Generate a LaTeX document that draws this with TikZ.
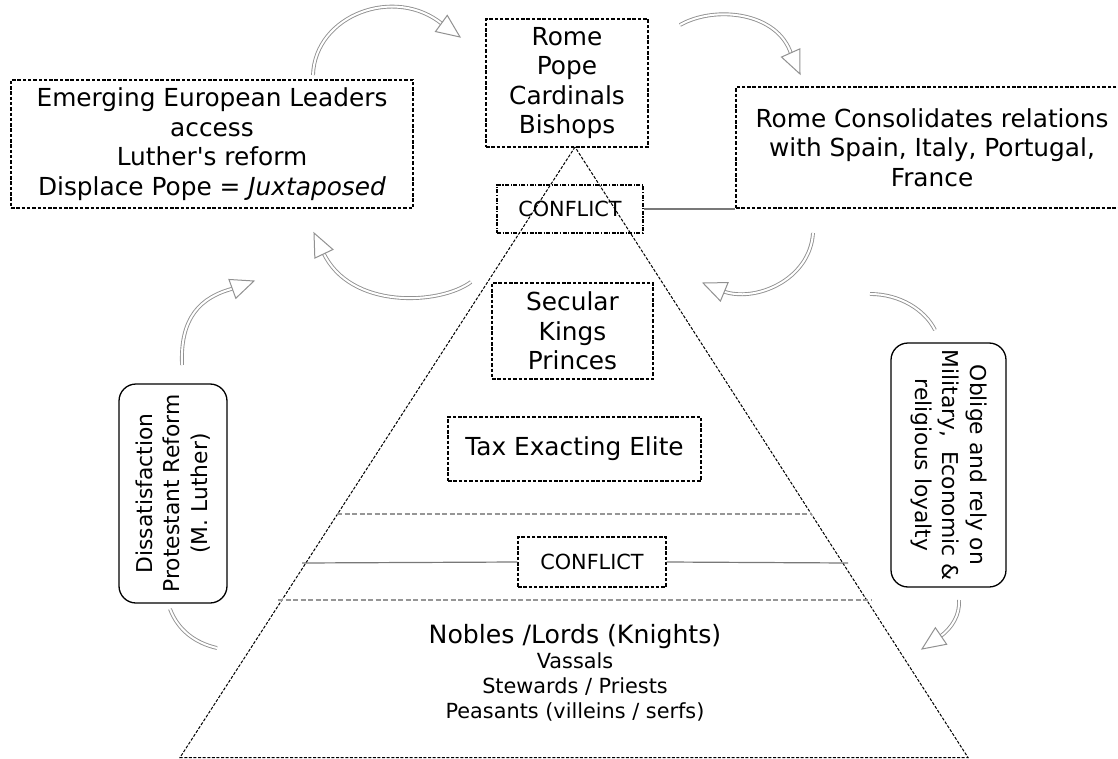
\documentclass[tikz,border=0pt]{standalone}
\usepackage{fontspec}
\setmainfont{DejaVu Sans}[ItalicFont={DejaVu Sans Oblique}]
\usetikzlibrary{calc}
\definecolor{agray}{RGB}{145,145,145}
\definecolor{lgray}{RGB}{120,120,120}
\definecolor{dgray}{RGB}{150,150,150}
\tikzset{
  dbox/.style={draw=black, line width=1.1pt, dash pattern=on 3.5pt off 1.8pt, inner sep=0pt, align=center, font=\fontsize{24.8}{29.5}\selectfont},
  ddbox/.style={draw=black, line width=1.1pt, dash pattern=on 4pt off 1.5pt on 1.2pt off 1.5pt, inner sep=0pt, align=center, font=\fontsize{20.8}{25}\selectfont},
  cbox/.style={dbox, font=\fontsize{20.8}{25}\selectfont},
  rbox/.style={draw=black, line width=1.3pt, rounded corners=17pt, inner sep=0pt, align=center, font=\fontsize{21.8}{27.5}\selectfont},
  tri/.style={draw=black, line width=1pt, dash pattern=on 3pt off 1.6pt},
  cline/.style={draw=lgray, line width=1.2pt},
  gdash/.style={draw=dgray, line width=1.1pt, dash pattern=on 5pt off 2.5pt},
  dbl/.style={draw=agray, line width=0.9pt, double=white, double distance=2pt},
  headst/.style={draw=agray, line width=1pt, fill=white, line join=miter},
  small/.style={inner sep=0pt, anchor=base, font=\fontsize{20.8}{25}\selectfont},
}
\newcommand\headat[2]{\draw[headst] (#1) -- ([shift={(#2+156.5:25.1)}]#1) -- ([shift={(#2+203.5:25.1)}]#1) -- cycle;}
\begin{document}
\begin{tikzpicture}[x=1pt,y=-1pt]
\clip (0,0) rectangle (1118,759);
\fill[white] (0,0) rectangle (1118,759);

% pyramid
\coordinate (apex) at (575,147);
\coordinate (bl) at (180,757.5);
\coordinate (br) at (968,757.5);
\draw[tri] (apex) -- (bl) -- (br) -- cycle;

% horizontal separators
\coordinate (u1) at (337,514); \coordinate (u2) at (812,514);
\coordinate (l1) at (278,600); \coordinate (l2) at (872,600);
\draw[gdash] (u1) -- (u2);
\draw[gdash] (l1) -- (l2);

% boxes
\node[dbox, minimum width=162, minimum height=128] (rome) at (567,83) {Rome\\Pope\\Cardinals\\Bishops};
\node[dbox, minimum width=402, minimum height=128] (emerg) at (212,144) {Emerging European Leaders\\access\\Luther\textquotesingle s reform\\Displace Pope = \textit{Juxtaposed}};
\node[dbox, minimum width=392, minimum height=121] (cons) at (932,147.5) {Rome Consolidates relations\\with Spain, Italy, Portugal,\\France};
\node[ddbox, minimum width=146, minimum height=48] (conf1) at (570,209) {CONFLICT};
\node[dbox, minimum width=161, minimum height=96] (secular) at (572.5,331) {Secular\\Kings\\Princes};
\node[dbox, minimum width=253, minimum height=64] (tax) at (574.5,449) {Tax Exacting Elite};
\node[cbox, minimum width=148, minimum height=50] (conf2) at (592,562) {CONFLICT};

\node[rbox, rotate=90, minimum width=219, minimum height=108] (dis) at (173,493.5) {Dissatisfaction\\Protestant Reform\\(M. Luther)};
\node[rbox, rotate=-90, minimum width=244, minimum height=115] (oblige) at (948.5,465) {Oblige and rely on\\Military,\ \ Economic \&\\religious loyalty};

% bottom tier texts
\node[small, font=\fontsize{25.2}{29}\selectfont] (nobles) at (575,643) {Nobles /Lords (Knights)};
\node[small] (vassals) at (575,668) {Vassals};
\node[small] (stewards) at (575,693) {Stewards / Priests};
\node[small] (peasants) at (575,718) {Peasants (villeins / serfs)};

% conflict lines
\coordinate (cl1) at (302,563); \coordinate (cl2) at (848,563);
\draw[cline] (cl1) -- (conf2.west);
\draw[cline] (conf2.east) -- (cl2);
\draw[cline] (conf1.east) -- (conf1.east -| cons.west);

% cycle arrows
\coordinate (t1) at (460,37);
\coordinate (t2) at (800,74);
\coordinate (t3) at (703,283);
\coordinate (t4) at (314,233);
\coordinate (t5) at (254,281);
\coordinate (t8) at (922,649);

\draw[dbl] (313,75) .. controls (315,15) and (395,-15) .. ($(t1)+(36+180:21.5)$);
\headat{t1}{36}
\draw[dbl] (680,25) .. controls (715,5) and (778,12) .. ($(t2)+(66+180:21.5)$);
\headat{t2}{66}
\draw[dbl] (813,233) .. controls (810,280) and (755,303) .. ($(t3)+(202.5+180:21.5)$);
\headat{t3}{202.5}
\draw[dbl] (471,282) .. controls (440,305) and (350,310) .. ($(t4)+(244.6+180:21.5)$);
\headat{t4}{244.6}
\draw[dbl] (182,365) .. controls (180,318) and (200,297) .. ($(t5)+(-20+180:21.5)$);
\headat{t5}{-20}
\draw[dbl] (959,600) .. controls (960,615) and (952,628) .. ($(t8)+(145.6+180:21.5)$);
\headat{t8}{145.6}

\coordinate (a6s) at (170,609); \coordinate (a6e) at (217,648);
\draw[dbl] (a6s) .. controls (178,630) and (195,643) .. (a6e);
\coordinate (a7s) at (870,294); \coordinate (a7e) at (935,330);
\draw[dbl] (a7s) .. controls (900,294) and (925,310) .. (a7e);
\end{tikzpicture}
\end{document}
